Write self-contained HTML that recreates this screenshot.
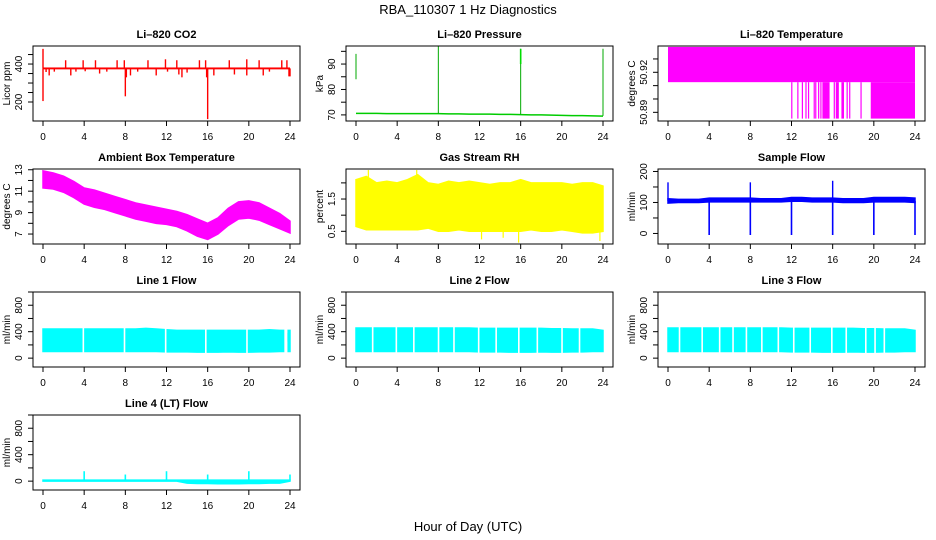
<!DOCTYPE html>
<html><head><meta charset="utf-8">
<style>
html,body{margin:0;padding:0;background:#fff;}
svg{display:block;font-family:"Liberation Sans",Arial,sans-serif;}
</style></head>
<body>
<svg id="chart" width="936" height="540" viewBox="0 0 936 540" xmlns="http://www.w3.org/2000/svg">
<text x="468" y="14" text-anchor="middle" font-size="13">RBA_110307  1 Hz Diagnostics</text>
<text x="468" y="531" text-anchor="middle" font-size="13">Hour of Day (UTC)</text>
</svg>
<script>
// ---- data ----
const xTicks = [0,4,8,12,16,20,24];
const hours = [0,1,2,3,4,5,6,7,8,9,10,11,12,13,14,15,16,17,18,19,20,21,22,23,24];
// CO2
const co2Base = [372,382];
const co2Spikes = [[0,480],[0,205],[0.3,358],[0.6,340],[1.1,360],[2.2,420],[2.7,340],[3.2,360],[3.9,420],[4.1,362],[5.1,420],[5.5,350],[6.2,360],[7.2,420],[7.9,420],[8.0,230],[8.1,330],[8.5,340],[9.2,360],[10.2,420],[11.0,340],[11.9,425],[12.1,360],[13.0,420],[13.2,345],[13.5,330],[14.0,355],[15.2,420],[15.8,420],[15.9,330],[16.0,110],[16.6,340],[18.1,420],[18.6,345],[19.8,425],[19.8,340],[21.0,420],[21.4,340],[22.0,360],[23.2,420],[23.7,420],[23.9,335],[24.0,335]];
// Pressure
const presBase = [70.6,70.6,70.6,70.5,70.5,70.5,70.5,70.5,70.5,70.4,70.4,70.3,70.3,70.3,70.2,70.2,70.1,70.0,70.0,69.9,69.8,69.7,69.7,69.6,69.5];
const presSpikes = [[0,84,94],[8,70.5,97],[16,70.2,96],[24,69.6,96]];
// Li-820 temperature
const tempLevels = [50.9126,50.939,50.8853];
const tempDips = [[11.97,12.02],[12.56,12.6],[13.0,13.08],[13.35,13.4],[13.6,13.66],[14.15,14.2],[14.3,14.36],[14.58,14.64],[14.8,14.86],[15.0,15.7],[16.1,16.16],[16.3,16.6],[16.85,17.1],[17.35,17.45],[17.6,17.66],[18.7,18.75],[19.7,24.0]];
// Ambient box temperature
const ambHi = [12.9,12.7,12.4,11.9,11.3,11.1,10.8,10.5,10.2,9.9,9.7,9.5,9.3,9.1,8.8,8.4,8.0,8.5,9.4,10.0,10.1,9.9,9.4,8.9,8.2];
const ambLo = [11.3,11.2,10.9,10.4,9.8,9.5,9.3,9.0,8.7,8.4,8.2,8.0,7.9,7.7,7.3,6.8,6.5,7.0,7.8,8.4,8.5,8.3,7.9,7.5,7.1];
// Gas stream RH
const rhHi = [2.1,2.2,2.0,2.05,2.0,2.1,2.25,2.0,1.95,2.05,2.0,2.05,2.0,1.95,2.0,2.0,2.1,2.0,2.0,2.0,2.0,1.95,2.0,2.0,1.9];
const rhLo = [0.65,0.55,0.55,0.55,0.55,0.55,0.55,0.6,0.5,0.5,0.55,0.5,0.5,0.5,0.5,0.5,0.5,0.55,0.5,0.5,0.55,0.5,0.45,0.45,0.5];
const rhSpikes = [[1.2,2.4],[5.9,2.4],[12.2,0.25],[14.3,0.3],[15.8,0.15],[23.7,0.2]];
// Sample flow
const sfHi = [112,110,110,110,114,114,114,114,114,112,112,112,116,116,114,114,114,112,112,112,116,116,116,116,114];
const sfLo = [98,100,100,100,102,102,102,102,102,102,102,102,104,104,102,102,102,100,100,100,102,102,102,102,100];
const sfDips = [4,8,12,16,20,24];
const sfSpikes = [[0,165],[8,165],[16,170]];
// Line flows
const l1Hi = [440,440,440,440,440,440,440,440,440,440,450,440,430,420,420,420,420,420,420,420,420,420,430,420,420];
const flowLo = [100,100,100,100,100,100,100,100,100,100,100,100,95,95,95,90,90,90,95,90,90,95,95,100,100];
const l23Hi = [455,455,455,455,455,455,455,455,455,455,455,455,450,450,450,450,450,450,450,445,445,440,440,440,420];
const l1Gaps = [3.9,7.9,11.9,15.8,19.8];
const l1End = [23.75,24.0,250,380];
const l2Gaps = [1.6,3.9,5.6,8.0,9.5,11.9,13.6,15.8,17.6,20.0,21.7];
const l3Gaps = [1.1,3.3,5.0,6.3,7.6,9.1,10.7,12.2,13.8,15.9,17.3,19.2,20.1,21.0];
const l4Hi = [15,15,15,15,15,15,15,15,15,15,15,15,15,15,15,15,15,15,15,15,15,15,15,15,15];
const l4Lo = [0,0,0,0,0,0,0,0,0,0,0,0,0,0,-30,-35,-35,-40,-40,-40,-35,-35,-30,-30,0];
const l4Spikes = [[4,150],[8,100],[12,150],[16,100],[20,150],[24,100]];

// ---- layout ----
const NS = "http://www.w3.org/2000/svg";
const svg = document.getElementById('chart');
const colL = [33,346,658], rowT = [46,169,292,415], BW = 267, BH = 75;
function mk(tag, attrs, parent){ const e=document.createElementNS(NS,tag); for(const k in attrs) e.setAttribute(k,attrs[k]); (parent||svg).appendChild(e); return e; }

function panel(id, col, row, title, ylab, ylim, ticks, labels, draw){
  const L=colL[col], T=rowT[row];
  const g = mk('g',{});
  
  
  const xs = h => L+10 + h*(247/24);
  const ys = v => T+BH - (v-ylim[0])/(ylim[1]-ylim[0])*BH;
  const cp = mk('clipPath',{id:'cp'+id},g);
  mk('rect',{x:L,y:T,width:BW,height:BH},cp);
  const plot = mk('g',{'clip-path':'url(#cp'+id+')'},g);
  
  
  draw(plot, xs, ys);
  const box = mk('rect',{x:L,y:T,width:BW,height:BH,fill:'none',stroke:'#000','stroke-width':1},g);
  
  
  const t = mk('text',{x:L+BW/2,y:T-8,'text-anchor':'middle','font-size':11,'font-weight':'bold'},g);
  t.textContent = title;
  
  
  xTicks.forEach(h=>{
    mk('line',{x1:xs(h),x2:xs(h),y1:T+BH,y2:T+BH+5,stroke:'#000'},g);
    const tl = mk('text',{x:xs(h),y:T+BH+19,'text-anchor':'middle','font-size':10},g);
    tl.textContent = h;
    
    
  });
  ticks.forEach(v=>{
    mk('line',{x1:L-5,x2:L,y1:ys(v),y2:ys(v),stroke:'#000'},g);
  });
  labels.forEach(v=>{
    const y=ys(v);
    const tl = mk('text',{x:0,y:0,'text-anchor':'middle','font-size':10,transform:`translate(${L-11},${y}) rotate(-90)`},g);
    tl.textContent = v;
    
    
  });
  const yl = mk('text',{x:0,y:0,'text-anchor':'middle','font-size':10,transform:`translate(${L-23},${T+BH/2}) rotate(-90)`},g);
  yl.textContent = ylab;
  
  
}

function band(p, xs, ys, hi, lo, color){
  let d='M'+hours.map((h,i)=>xs(h)+','+ys(hi[i])).join('L');
  d+='L'+hours.slice().reverse().map((h,j)=>{const i=hours.length-1-j; return xs(h)+','+ys(lo[i]);}).join('L')+'Z';
  const e = mk('path',{d:d,fill:color,stroke:color,'stroke-width':1.5},p);
  
  
}
function vline(p, xs, ys, h, a, b, color, w){
  const e = mk('line',{x1:xs(h),x2:xs(h),y1:ys(a),y2:ys(b),stroke:color,'stroke-width':w||1.2},p);
  
  
}
function gaps(p, xs, ys, list){
  list.forEach(h=>{
    const e = mk('rect',{x:xs(h)-0.6,y:ys(1000),width:1.6,height:ys(-200)-ys(1000),fill:'#fff'},p);
    
    
  });
}

panel('co2',0,0,'Li\u2013820 CO2','Licor ppm',[100,495],[200,250,300,350,400,450],[200,400],(p,xs,ys)=>{
  const e = mk('rect',{x:xs(0),y:ys(co2Base[1]),width:xs(24)-xs(0),height:ys(co2Base[0])-ys(co2Base[1]),fill:'#f00'},p);
  
  
  co2Spikes.forEach(s=>vline(p,xs,ys,s[0],377,s[1],'#f00',1.4));
});
panel('pressure',1,0,'Li\u2013820 Pressure','kPa',[67.6,97.1],[70,75,80,85,90,95],[70,80,90],(p,xs,ys)=>{
  const d='M'+hours.map((h,i)=>xs(h)+','+ys(presBase[i])).join('L');
  const e = mk('path',{d:d,fill:'none',stroke:'#00cc00','stroke-width':1.5},p);
  
  
  presSpikes.forEach(s=>vline(p,xs,ys,s[0],s[1],s[2],'#00aa00',1));
  vline(p,xs,ys,16,90,96,'#00dd00',1.6);
});
panel('licor-temp',2,0,'Li\u2013820 Temperature','degrees C',[50.8835,50.9397],[50.89,50.90,50.91,50.92,50.93],['50.89','50.92'],(p,xs,ys)=>{
  const e = mk('rect',{x:xs(0),y:ys(tempLevels[1]),width:xs(24)-xs(0),height:ys(tempLevels[0])-ys(tempLevels[1]),fill:'#f0f'},p);
  
  
  tempDips.forEach(d=>{
    const r = mk('rect',{x:xs(d[0]),y:ys(tempLevels[0]),width:Math.max(1.2,xs(d[1])-xs(d[0])),height:ys(tempLevels[2])-ys(tempLevels[0]),fill:'#f0f'},p);
    
    
  });
});
panel('ambient',0,1,'Ambient Box Temperature','degrees C',[6.07,13.07],[7,8,9,10,11,12,13],[7,9,11,13],(p,xs,ys)=>{
  band(p,xs,ys,ambHi,ambLo,'#f0f');
});
panel('rh',1,1,'Gas Stream RH','percent',[0.107,2.43],[0.5,1.0,1.5,2.0],['0.5','1.5'],(p,xs,ys)=>{
  band(p,xs,ys,rhHi,rhLo,'#ff0');
  rhSpikes.forEach(s=>vline(p,xs,ys,s[0],1.2,s[1],'#ff0',1.2));
});
panel('sample-flow',2,1,'Sample Flow','ml/min',[-34,208],[0,50,100,150,200],[0,100,200],(p,xs,ys)=>{
  band(p,xs,ys,sfHi,sfLo,'#00f');
  sfDips.forEach(h=>vline(p,xs,ys,h,105,-5,'#00f',1.6));
  sfSpikes.forEach(s=>vline(p,xs,ys,s[0],105,s[1],'#00f',1.4));
});
const flowYl=[-134,1000], flowT=[0,200,400,600,800,1000], flowL=[0,400,800];
panel('line1',0,2,'Line 1 Flow','ml/min',flowYl,flowT,flowL,(p,xs,ys)=>{
  band(p,xs,ys,l1Hi,flowLo,'#0ff'); gaps(p,xs,ys,l1Gaps);
  const w = mk('rect',{x:xs(23.45),y:ys(1000),width:xs(l1End[0])-xs(23.45),height:ys(-200)-ys(1000),fill:'#fff'},p);
  
  
  const e = mk('rect',{x:xs(l1End[0]),y:ys(l1End[3]),width:xs(l1End[1])-xs(l1End[0]),height:ys(l1End[2])-ys(l1End[3]),fill:'#0ff'},p);
  
  
});
panel('line2',1,2,'Line 2 Flow','ml/min',flowYl,flowT,flowL,(p,xs,ys)=>{
  band(p,xs,ys,l23Hi,flowLo,'#0ff'); gaps(p,xs,ys,l2Gaps);
});
panel('line3',2,2,'Line 3 Flow','ml/min',flowYl,flowT,flowL,(p,xs,ys)=>{
  band(p,xs,ys,l23Hi,flowLo,'#0ff'); gaps(p,xs,ys,l3Gaps);
});
panel('line4',0,3,'Line 4 (LT) Flow','ml/min',flowYl,flowT,flowL,(p,xs,ys)=>{
  band(p,xs,ys,l4Hi,l4Lo,'#0ff');
  l4Spikes.forEach(s=>vline(p,xs,ys,s[0],10,s[1],'#0ff',1.6));
});
</script>
</body></html>
